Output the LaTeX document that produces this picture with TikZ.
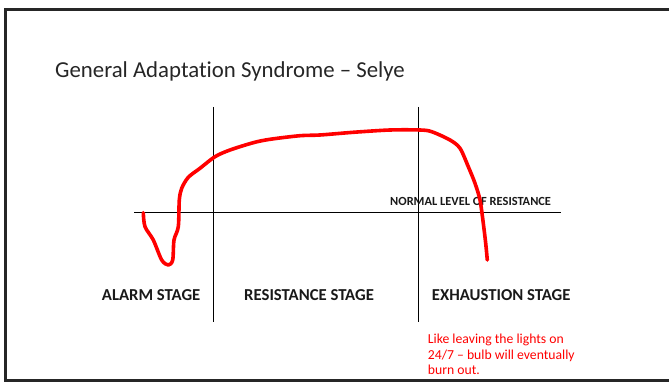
\documentclass[tikz,border=0pt]{standalone}
\usepackage{fontspec}
\setmainfont{Carlito}[Ligatures=NoCommon]
\usetikzlibrary{positioning}

\tikzset{
  axis/.style={black, line width=1pt},
  stagelbl/.style={font=\fontsize{16.7}{19}\selectfont\bfseries, text=black!90, anchor=base west, inner sep=0pt},
  curve/.style={red, line width=3.6pt, line cap=round, line join=round},
}

\begin{document}
\begin{tikzpicture}[x=1pt, y=-1pt]
  \useasboundingbox (0,0) rectangle (670,382);

  % Slide frame (right side runs off the page)
  \draw[black!85, line width=2.2pt] (669,9.5) -- (5.5,9.5) -- (5.5,380.5) -- (669,380.5);

  % Title
  \node[anchor=base west, inner sep=0pt, text=black!85,
        font=\fontsize{22.8}{27}\selectfont] (title) at (55,78) {General Adaptation Syndrome -- Selye};

  % Define axis coordinates
  \coordinate (hl) at (134,212.5);
  \coordinate (hr) at (561,212.5);
  \coordinate (v1t) at (213.3,107);
  \coordinate (v1b) at (213.3,322);
  \coordinate (v2t) at (418.3,107);
  \coordinate (v2b) at (418.3,322);

  % Draw the axes
  \draw[axis] (hl) -- (hr);
  \draw[axis] (v1t) -- (v1b);
  \draw[axis] (v2t) -- (v2b);

  % Stage labels
  \node[stagelbl] (alarm) at (101.7,300.7) {ALARM STAGE};
  \node[stagelbl] (resist) at (244,300.7) {RESISTANCE STAGE};
  \node[stagelbl] (exhaust) at (431.7,300.7) {EXHAUSTION STAGE};

  % Label for the normal level
  \node[anchor=base west, inner sep=0pt, text=black!90,
        font=\fontsize{12.4}{15}\selectfont\bfseries] (normal) at (390,206) {NORMAL LEVEL OF RESISTANCE};

  % Draw the resistance curve (hand drawn look)
  \draw[curve] plot[smooth, tension=0.5] coordinates {
    (143.3,212.7) (145,226.7) (153.3,240) (161.7,260) (168.3,265) (172.7,260)
    (174,240) (178.3,226.7) (179.3,200) (181.7,188.3) (188.3,177.3) (200,168.3)
    (215,156.7) (230,150) (253.3,142.7) (270,139.3) (300,135.7) (320,135)
    (353.3,132.3) (390,130) (420,130) (431.7,131.7) (450,140) (460,148.3)
    (468.3,166.7) (475,183.3) (480,200) (483.3,223.3) (485.7,243.3) (487.3,260)};

  % Note under the exhaustion stage (base anchor sits on the last line)
  \node[anchor=base west, inner sep=0pt, text=red, align=left,
        font=\fontsize{13.7}{15.2}\selectfont] (note) at (427.7,374.3)
        {Like leaving the lights on\\24/7 -- bulb will eventually\\burn out.};

\end{tikzpicture}
\end{document}
